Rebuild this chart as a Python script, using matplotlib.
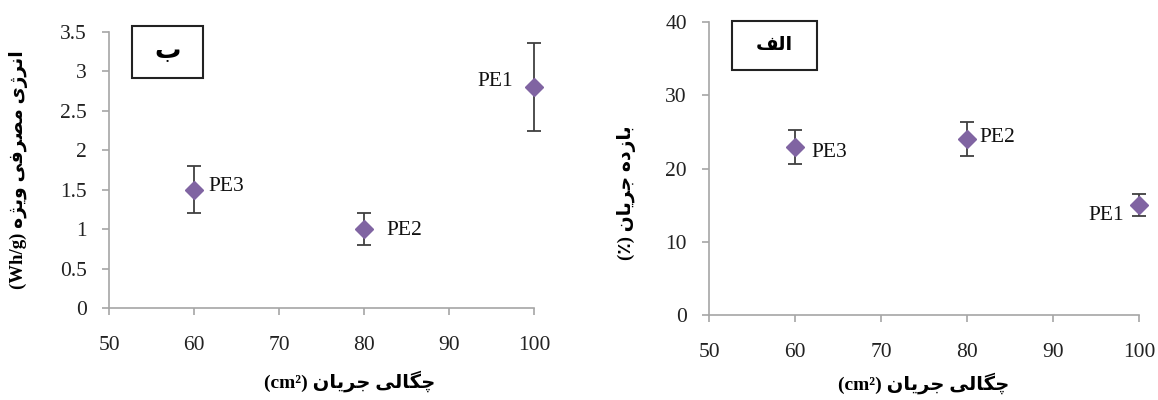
import matplotlib
matplotlib.use("Agg")
import matplotlib.pyplot as plt
from matplotlib.ticker import FuncFormatter
from matplotlib.patches import Rectangle

# panel "ب" : specific energy consumption
x_left = [60, 80, 100]
y_left = [1.5, 1.0, 2.8]
err_left = [0.3, 0.2, 0.56]
names_left = ["PE3", "PE2", "PE1"]

# panel "الف" : current efficiency
x_right = [60, 80, 100]
y_right = [22.9, 24.0, 15.0]
err_right = [2.3, 2.3, 1.5]
names_right = ["PE3", "PE2", "PE1"]

xticks = [50, 60, 70, 80, 90, 100]
yticks_left = [0, 0.5, 1, 1.5, 2, 2.5, 3, 3.5]
yticks_right = [0, 10, 20, 30, 40]

# simple persian shaping (no raqm in matplotlib): iso, fin, init, med
FORMS = {
    'ا': ('\uFE8D', '\uFE8E'),
    'ب': ('\uFE8F', '\uFE90', '\uFE91', '\uFE92'),
    'ن': ('\uFEE5', '\uFEE6', '\uFEE7', '\uFEE8'),
    'ر': ('\uFEAD', '\uFEAE'),
    'ز': ('\uFEAF', '\uFEB0'),
    'ژ': ('\uFB8A', '\uFB8B'),
    'ی': ('\uFBFC', '\uFBFD', '\uFBFE', '\uFBFF'),
    'م': ('\uFEE1', '\uFEE2', '\uFEE3', '\uFEE4'),
    'ص': ('\uFEB9', '\uFEBA', '\uFEBB', '\uFEBC'),
    'ف': ('\uFED1', '\uFED2', '\uFED3', '\uFED4'),
    'و': ('\uFEED', '\uFEEE'),
    'ه': ('\uFEE9', '\uFEEA', '\uFEEB', '\uFEEC'),
    'چ': ('\uFB7A', '\uFB7B', '\uFB7C', '\uFB7D'),
    'گ': ('\uFB92', '\uFB93', '\uFB94', '\uFB95'),
    'ل': ('\uFEDD', '\uFEDE', '\uFEDF', '\uFEE0'),
    'ج': ('\uFE9D', '\uFE9E', '\uFE9F', '\uFEA0'),
    'د': ('\uFEA9', '\uFEAA'),
}


def shape(s):
    out = []
    for i, c in enumerate(s):
        if c not in FORMS:
            out.append(c)
            continue
        prev = s[i - 1] if i > 0 else None
        nxt = s[i + 1] if i + 1 < len(s) else None
        f = FORMS[c]
        jp = prev in FORMS and len(FORMS[prev]) == 4
        jn = nxt in FORMS and len(f) == 4
        if jp and jn:
            out.append(f[3])
        elif jp:
            out.append(f[1])
        elif jn:
            out.append(f[2])
        else:
            out.append(f[0])
    return ''.join(reversed(out))


FAM = ['Liberation Serif', 'DejaVu Sans']
plt.rcParams['font.family'] = FAM

W, H = 1158, 400
fig = plt.figure(figsize=(W / 100, H / 100), dpi=100)
ax1 = fig.add_axes([109 / W, 92 / H, 425 / W, 276 / H])
ax2 = fig.add_axes([709 / W, 85 / H, 430 / W, 293 / H])

gray = '#a6a6a6'


def style(ax, yticks):
    for s in ['top', 'right']:
        ax.spines[s].set_visible(False)
    for s in ['left', 'bottom']:
        ax.spines[s].set_color(gray)
        ax.spines[s].set_linewidth(1.2)
    ax.set_xlim(50, 100)
    ax.set_xticks(xticks)
    ax.set_yticks(yticks)
    ax.set_ylim(yticks[0], yticks[-1])
    ax.yaxis.set_major_formatter(FuncFormatter(lambda v, p: '%g' % v))
    ax.tick_params(axis='x', direction='out', length=5, width=1.2, color=gray,
                   pad=15, labelsize=15.5, labelcolor='#222222')
    ax.tick_params(axis='y', direction='out', length=5, width=1.2, color=gray,
                   pad=11, labelsize=15.5, labelcolor='#222222')


def draw(ax, xs, ys, es, names, offsets):
    ax.errorbar(xs, ys, yerr=es, fmt='D', color='#8064A2', markersize=9.5,
                ecolor='#404040', elinewidth=1.3, capsize=5, capthick=1.3,
                clip_on=False, zorder=3)
    for x, y, n, (dx, dy, ha) in zip(xs, ys, names, offsets):
        ax.annotate(n, (x, y), xytext=(dx, dy), textcoords='offset pixels',
                    ha=ha, va='center', fontsize=15.5, color='#111111')


style(ax1, yticks_left)
style(ax2, yticks_right)

draw(ax1, x_left, y_left, err_left, names_left,
     [(14, 3, 'left'), (22, -1, 'left'), (-21, 6, 'right')])
draw(ax2, x_right, y_right, err_right, names_right,
     [(16, -5, 'left'), (12, 2, 'left'), (-15, -10, 'right')])

# axis labels
ax1.set_ylabel('(Wh/g) ' + shape('انرژی مصرفی ویژه'), fontsize=13.5,
               fontweight='bold')
ax1.yaxis.set_label_coords(-0.19, 0.5)
ax1.set_xlabel('(cm²) ' + shape('چگالی جریان'), fontsize=14,
               fontweight='bold')
ax1.xaxis.set_label_coords(0.567, -0.225)

ax2.set_ylabel('(\u066A) ' + shape('بازده جریان'), fontsize=13.5,
               fontweight='bold')
ax2.yaxis.set_label_coords(-0.17, 0.416)
ax2.set_xlabel('(cm²) ' + shape('چگالی جریان'), fontsize=14,
               fontweight='bold')
ax2.xaxis.set_label_coords(0.5, -0.195)

# panel tags
for (x0, y0, x1, y1), txt, fs in [((132, 26, 203, 78), 'ب', 19),
                                  ((732, 21, 817, 70), 'الف', 14)]:
    fig.patches.append(Rectangle((x0 / W, 1 - y1 / H), (x1 - x0) / W,
                                 (y1 - y0) / H, transform=fig.transFigure,
                                 fc='white', ec='#222222', lw=1.5))
    fig.text((x0 + x1) / 2 / W, 1 - (y0 + y1) / 2 / H, shape(txt),
             ha='center', va='center', fontsize=fs, fontweight='bold')

fig.savefig('out.png', dpi=100)
